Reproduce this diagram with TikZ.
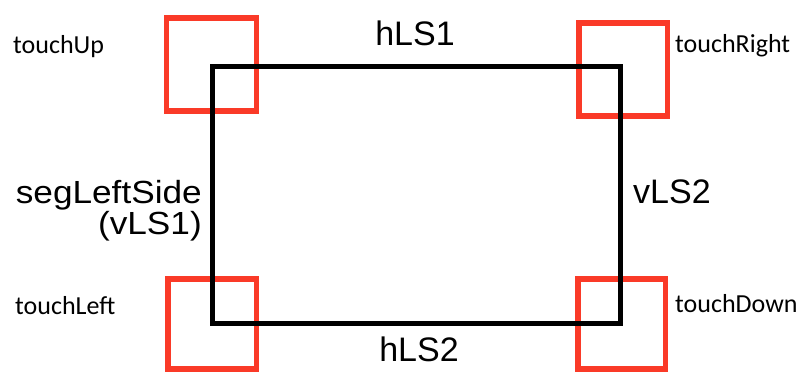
\documentclass[tikz,border=0pt]{standalone}
\usepackage{fontspec}
\setmainfont{Liberation Sans}
\newfontfamily\calibrifont{Carlito}
\definecolor{touchred}{RGB}{250,58,40}
\begin{document}
\begin{tikzpicture}[x=1pt,y=-1pt,
  touchbox/.style={draw=touchred,line width=5.5pt,inner sep=0pt,outer sep=0pt},
  touchlabel/.style={inner sep=0pt,font=\calibrifont\fontsize{26}{30}\selectfont},
  seglabel/.style={inner sep=0pt,font=\fontsize{34}{40}\selectfont},
  sidelabel/.style={inner sep=0pt,font=\fontsize{32}{36}\selectfont,xscale=1.1},
  segline/.style={draw=black,line width=5pt,line join=miter}]
\useasboundingbox (0,0) rectangle (800,372);
% red touch boxes
\node[touchbox,minimum width=90pt,minimum height=93pt] (bUp) at (211.3,64.7) {};
\node[touchbox,minimum width=88.7pt,minimum height=93pt] (bRight) at (623.3,69.7) {};
\node[touchbox,minimum width=88.3pt,minimum height=90pt] (bLeft) at (212.2,324) {};
\node[touchbox,minimum width=87.3pt,minimum height=90pt] (bDown) at (621.7,324) {};
% black rectangle
\coordinate (tl) at (212.5,66.6);
\coordinate (tr) at (620.7,66.6);
\coordinate (br) at (620.7,323.5);
\coordinate (bl) at (212.5,323.5);
\draw[segline] (tl) -- (tr) -- (br) -- (bl) -- cycle;
% labels
\node[touchlabel,anchor=base west] (tUp) at (13,53) {touchUp};
\node[touchlabel,anchor=base west] (tRight) at (675,52) {touchRight};
\node[touchlabel,anchor=base west] (tLeft) at (15,314) {touchLeft};
\node[touchlabel,anchor=base west] (tDown) at (675,312) {touchDown};
\node[seglabel,anchor=base] (hA) at (415,45) {hLS1};
\node[seglabel,anchor=base] (hB) at (419,361) {hLS2};
\node[sidelabel,anchor=base east] (vA1) at (202,203) {segLeftSide};
\node[sidelabel,anchor=base east] (vA2) at (202,234) {(vLS1)};
\node[seglabel,anchor=base west] (vB) at (633,203) {vLS2};
\end{tikzpicture}
\end{document}
